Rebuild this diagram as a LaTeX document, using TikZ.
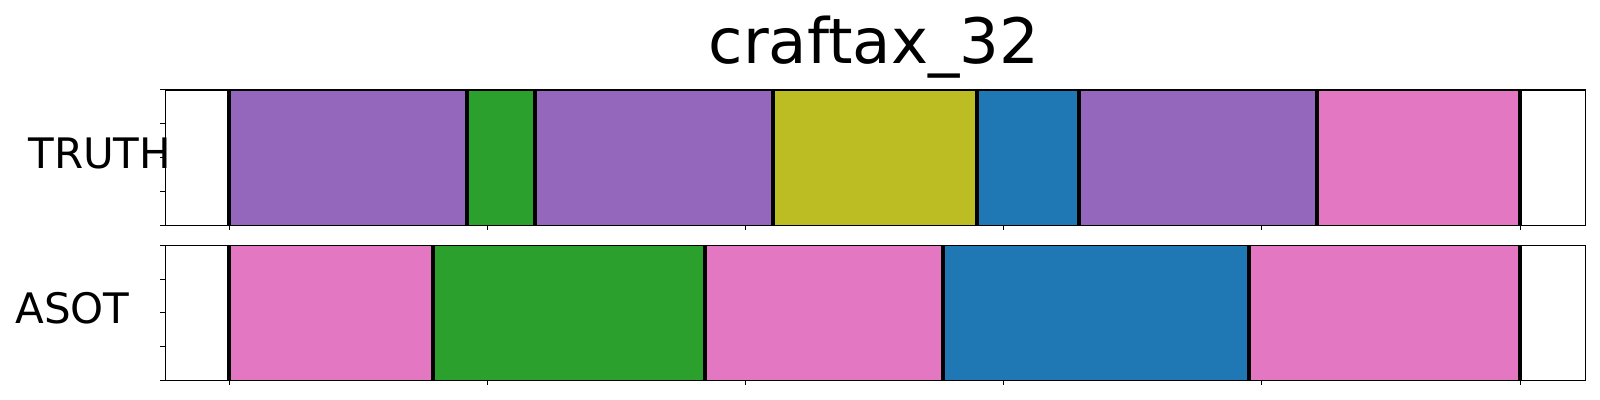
\documentclass[tikz,border=0pt]{standalone}
\usepackage{fontspec}
\setmainfont{DejaVu Sans}
\definecolor{cpurple}{HTML}{9467BD}
\definecolor{cgreen}{HTML}{2CA02C}
\definecolor{colive}{HTML}{BCBD22}
\definecolor{cblue}{HTML}{1F77B4}
\definecolor{cpink}{HTML}{E377C2}
\tikzset{
  frame/.style={draw=black,line width=0.55pt},
  tickmark/.style={draw=black,line width=0.5pt},
  bound/.style={draw=black,line width=2pt},
  lbl/.style={font=\fontsize{21}{21}\selectfont,anchor=base west,inner sep=0pt},
  ttl/.style={font=\fontsize{31.3}{31.3}\selectfont,anchor=base,inner sep=0pt}
}
\begin{document}
\begin{tikzpicture}[x=0.5pt,y=-0.5pt]
\useasboundingbox (0,0) rectangle (1600,400);
\fill[white] (0,0) rectangle (1600,400);
% title
\node[ttl] (title) at (874,64) {craftax\_32};
% ---------- TRUTH panel ----------
\def\ta{90}\def\tb{225.3}
\foreach \xa/\xb/\c in {229/466.7/cpurple,466.7/535/cgreen,535/772.7/cpurple,772.7/976.7/colive,976.7/1079/cblue,1079/1317/cpurple,1317/1520/cpink}
  \fill[\c] (\xa,\ta) rectangle (\xb,\tb);
\foreach \xx in {229,466.7,535,772.7,976.7,1079,1317,1520}
  \draw[bound] (\xx,\ta) -- (\xx,\tb);
\draw[frame] (165.3,\ta) rectangle (1585.7,\tb);
\foreach \i in {0,...,5} \draw[tickmark] (229+258.2*\i,\tb) -- ++(0,5);
\foreach \i in {0,...,4} \draw[tickmark] (165.3,\ta+33.825*\i) -- ++(-5,0);
% ---------- ASOT panel ----------
\def\ba{245.7}\def\bb{380.3}
\foreach \xa/\xb/\c in {229/433/cpink,433/705/cgreen,705/942.7/cpink,942.7/1249/cblue,1249/1520/cpink}
  \fill[\c] (\xa,\ba) rectangle (\xb,\bb);
\foreach \xx in {229,433,705,942.7,1249,1520}
  \draw[bound] (\xx,\ba) -- (\xx,\bb);
\draw[frame] (165.3,\ba) rectangle (1585.7,\bb);
\foreach \i in {0,...,5} \draw[tickmark] (229+258.2*\i,\bb) -- ++(0,5);
\foreach \i in {0,...,4} \draw[tickmark] (165.3,\ba+33.65*\i) -- ++(-5,0);
% labels
\node[lbl] (truth) at (28,169) {TRUTH};
\node[lbl] (asot) at (15,323.3) {ASOT};
\end{tikzpicture}
\end{document}
